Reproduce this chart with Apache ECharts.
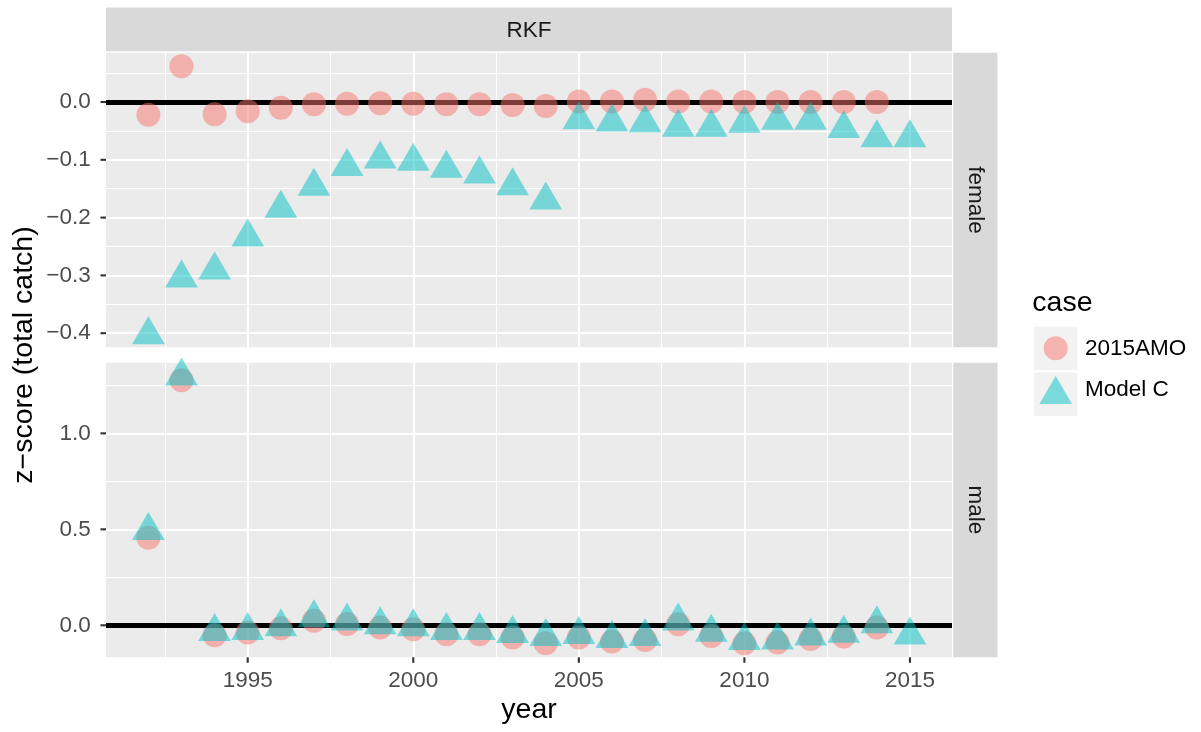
<!DOCTYPE html>
<html>
<head>
<meta charset="utf-8">
<script src="https://cdn.jsdelivr.net/npm/echarts@6/dist/echarts.min.js"></script>
<style>
  html, body { margin: 0; padding: 0; background: #fff; }
  #chart { width: 1201px; height: 732px; }
</style>
</head>
<body>
<div id="chart"></div>
<script>
// ---------------- data ----------------
const years = [1992,1993,1994,1995,1996,1997,1998,1999,2000,2001,2002,2003,2004,2005,2006,2007,2008,2009,2010,2011,2012,2013,2014,2015];
const femaleAMO = [-0.022,0.062,-0.021,-0.016,-0.010,-0.004,-0.003,-0.002,-0.003,-0.004,-0.004,-0.005,-0.007,0.001,0.001,0.004,0.001,0.001,0.000,0.000,0.000,0.000,0.000,null];
const femaleModelC = [-0.403,-0.305,-0.291,-0.234,-0.184,-0.146,-0.112,-0.099,-0.103,-0.115,-0.125,-0.145,-0.170,-0.031,-0.035,-0.036,-0.044,-0.044,-0.037,-0.032,-0.032,-0.046,-0.062,-0.062];
const maleAMO = [0.456,1.276,-0.052,-0.038,-0.016,0.024,0.007,-0.012,-0.021,-0.047,-0.047,-0.064,-0.094,-0.064,-0.085,-0.077,0.005,-0.056,-0.094,-0.090,-0.071,-0.059,-0.012,null];
const maleModelC = [0.493,1.298,-0.033,-0.028,-0.009,0.038,0.021,0.002,-0.009,-0.028,-0.028,-0.044,-0.059,-0.049,-0.070,-0.059,0.021,-0.037,-0.080,-0.077,-0.057,-0.042,0.007,-0.052];

const caseNames = ['2015AMO', 'Model C'];
const facetTop = 'RKF';
const facetRows = ['female', 'male'];

const xTicks = [1995, 2000, 2005, 2010, 2015];
const xMinor = [1992.5, 1997.5, 2002.5, 2007.5, 2012.5];
const yTicksFemale = [-0.4, -0.3, -0.2, -0.1, 0.0];
const yMinorFemale = [-0.35, -0.25, -0.15, -0.05, 0.05];
const yTicksMale = [0.0, 0.5, 1.0];
const yMinorMale = [0.25, 0.75, 1.25];
const refLine = 0;

const xRange = [1990.72, 2016.27];
const yRangeFemale = [-0.4244, 0.0853];
const yRangeMale = [-0.1667, 1.368];

// ---------------- helpers ----------------
const FONT = "'Liberation Sans', Arial, Helvetica, sans-serif";
const pink = 'rgba(248,118,109,0.5)';
const cyan = 'rgba(0,191,196,0.5)';
const TICK_LEN = 5.5, TICK_W = 2.1, TICK_C = '#333333';
const pairs = (vals) => years.map((y, i) => [y, vals[i]]).filter(p => p[1] !== null);
const fmtY = (v) => {
  let s = Math.abs(v) < 1e-9 ? '0.0' : v.toFixed(1);
  return s.replace('-', '\u2212');
};

const PL = 106, PW = 846, PH = 294.6;
const TOP1 = 52.7, TOP2 = 362.7;

function gridLines(xm, ym) {
  const minor = { color: '#ffffff', width: 1.1, type: 'solid' };
  return {
    silent: true,
    animation: false,
    symbol: ['none', 'none'],
    label: { show: false },
    z: 1,
    emphasis: { disabled: true },
    data: [
      ...xm.map(v => ({ xAxis: v, lineStyle: minor })),
      ...ym.map(v => ({ yAxis: v, lineStyle: minor })),
      { yAxis: refLine, lineStyle: { color: '#000000', width: 5, type: 'solid' } }
    ]
  };
}

function xAxisCfg(gi, showLabels) {
  return {
    type: 'value', gridIndex: gi, min: xRange[0], max: xRange[1],
    axisLine: { show: false },
    axisTick: { show: false },
    axisLabel: showLabels ? { show: true, customValues: xTicks, fontFamily: FONT, fontSize: 22.5, color: '#4D4D4D', margin: 12, formatter: v => String(v) } : { show: false },
    splitLine: { show: true, showMinLine: false, showMaxLine: false, lineStyle: { color: '#ffffff', width: 2.1 } },
    name: showLabels ? 'year' : '',
    nameLocation: 'middle', nameGap: 38.6,
    nameTextStyle: { fontFamily: FONT, fontSize: 28.5, color: '#000000' }
  };
}
function yAxisCfg(gi, range, ticks, splitNumber) {
  return {
    type: 'value', gridIndex: gi, min: range[0], max: range[1], splitNumber: splitNumber,
    axisLine: { show: false },
    axisTick: { show: false },
    axisLabel: { show: true, customValues: ticks, fontFamily: FONT, fontSize: 22.5, color: '#4D4D4D', margin: 15.3, formatter: fmtY },
    splitLine: { show: true, showMinLine: false, showMaxLine: false, lineStyle: { color: '#ffffff', width: 2.1 } }
  };
}

const circleStyle = { type: 'scatter', symbol: 'circle', symbolSize: 24, itemStyle: { color: pink, opacity: 1 }, z: 2 };
const triStyle = { type: 'scatter', symbol: 'triangle', symbolSize: [32.7, 28], symbolOffset: [0, -4.67], itemStyle: { color: cyan, opacity: 1 }, z: 3 };

// ---- axis tick marks: positions follow the same linear scale as each panel's axes ----
const panels = [
  { top: TOP1, y: yRangeFemale },
  { top: TOP2, y: yRangeMale }
];
const xPix = (v) => PL + (v - xRange[0]) / (xRange[1] - xRange[0]) * PW;
const yPix = (gi, v) => { const g = panels[gi]; return g.top + (g.y[1] - v) / (g.y[1] - g.y[0]) * PH; };
const tickRects = [];
[[0, yTicksFemale], [1, yTicksMale]].forEach(([gi, vals]) => {
  vals.forEach(v => {
    const y = yPix(gi, v);
    tickRects.push({ type: 'rect', z: 100, silent: true, shape: { x: PL - TICK_LEN, y: y - TICK_W / 2, width: TICK_LEN, height: TICK_W }, style: { fill: TICK_C } });
  });
});
xTicks.forEach(v => {
  const x = xPix(v);
  tickRects.push({ type: 'rect', z: 100, silent: true, shape: { x: x - TICK_W / 2, y: TOP2 + PH, width: TICK_W, height: TICK_LEN }, style: { fill: TICK_C } });
});

const graphicEls = [
  // top strip
  { type: 'rect', shape: { x: PL, y: 7.5, width: PW, height: 43.8 }, style: { fill: '#D9D9D9' }, silent: true },
  { type: 'text', x: PL + PW / 2, y: 30.5, style: { text: facetTop, font: '22.5px ' + FONT, fill: '#1A1A1A', align: 'center', verticalAlign: 'middle' }, silent: true },
  // right strips
  { type: 'rect', shape: { x: 953.3, y: TOP1, width: 44.2, height: PH }, style: { fill: '#D9D9D9' }, silent: true },
  { type: 'text', x: 975.4, y: TOP1 + PH / 2, rotation: -Math.PI / 2, style: { text: facetRows[0], font: '22.5px ' + FONT, fill: '#1A1A1A', align: 'center', verticalAlign: 'middle' }, silent: true },
  { type: 'rect', shape: { x: 953.3, y: TOP2, width: 44.2, height: PH }, style: { fill: '#D9D9D9' }, silent: true },
  { type: 'text', x: 975.4, y: TOP2 + PH / 2, rotation: -Math.PI / 2, style: { text: facetRows[1], font: '22.5px ' + FONT, fill: '#1A1A1A', align: 'center', verticalAlign: 'middle' }, silent: true },
  // y axis title
  { type: 'text', x: 24.5, y: (TOP1 + TOP2 + PH) / 2, rotation: Math.PI / 2, style: { text: 'z\u2212score (total catch)', font: '28.5px ' + FONT, fill: '#000000', align: 'center', verticalAlign: 'middle' }, silent: true },
  // legend title and key backgrounds
  { type: 'text', x: 1032.3, y: 303.5, style: { text: 'case', font: '28.5px ' + FONT, fill: '#000000', align: 'left', verticalAlign: 'middle' }, silent: true },
  { type: 'rect', z: -1, shape: { x: 1034, y: 326.7, width: 43.3, height: 43.3 }, style: { fill: '#F2F2F2' }, silent: true },
  { type: 'rect', z: -1, shape: { x: 1034, y: 372.7, width: 43.3, height: 43.3 }, style: { fill: '#F2F2F2' }, silent: true }
].concat(tickRects);

const option = {
  animation: false,
  backgroundColor: '#ffffff',
  grid: [
    { left: PL, top: TOP1, width: PW, height: PH, show: true, backgroundColor: '#EBEBEB', borderWidth: 0, containLabel: false },
    { left: PL, top: TOP2, width: PW, height: PH, show: true, backgroundColor: '#EBEBEB', borderWidth: 0, containLabel: false }
  ],
  xAxis: [xAxisCfg(0, false), xAxisCfg(1, true)],
  yAxis: [yAxisCfg(0, yRangeFemale, yTicksFemale, 5), yAxisCfg(1, yRangeMale, yTicksMale, 3)],
  legend: [
    {
      data: [{ name: caseNames[0], icon: 'circle' }], orient: 'vertical', padding: 0,
      left: 1043.7, top: 336.3, itemWidth: 24, itemHeight: 24, selectedMode: false,
      itemStyle: { opacity: 1 },
      textStyle: { fontFamily: FONT, fontSize: 22.5, color: '#000000', padding: [0, 0, 0, 12.3] }
    },
    {
      data: [{ name: caseNames[1], icon: 'triangle' }], orient: 'vertical', padding: 0,
      left: 1039.35, top: 376, itemWidth: 32.7, itemHeight: 28, selectedMode: false,
      itemStyle: { opacity: 1 },
      textStyle: { fontFamily: FONT, fontSize: 22.5, color: '#000000', padding: [0, 0, 0, 8] }
    }
  ],
  series: [
    Object.assign({}, circleStyle, { name: caseNames[0], xAxisIndex: 0, yAxisIndex: 0, data: pairs(femaleAMO), markLine: gridLines(xMinor, yMinorFemale) }),
    Object.assign({}, triStyle, { name: caseNames[1], xAxisIndex: 0, yAxisIndex: 0, data: pairs(femaleModelC) }),
    Object.assign({}, circleStyle, { name: caseNames[0], xAxisIndex: 1, yAxisIndex: 1, data: pairs(maleAMO), markLine: gridLines(xMinor, yMinorMale) }),
    Object.assign({}, triStyle, { name: caseNames[1], xAxisIndex: 1, yAxisIndex: 1, data: pairs(maleModelC) })
  ],
  graphic: { elements: graphicEls }
};

const chart = echarts.init(document.getElementById('chart'), null, { renderer: 'canvas' });
chart.setOption(option);
</script>
</body>
</html>
